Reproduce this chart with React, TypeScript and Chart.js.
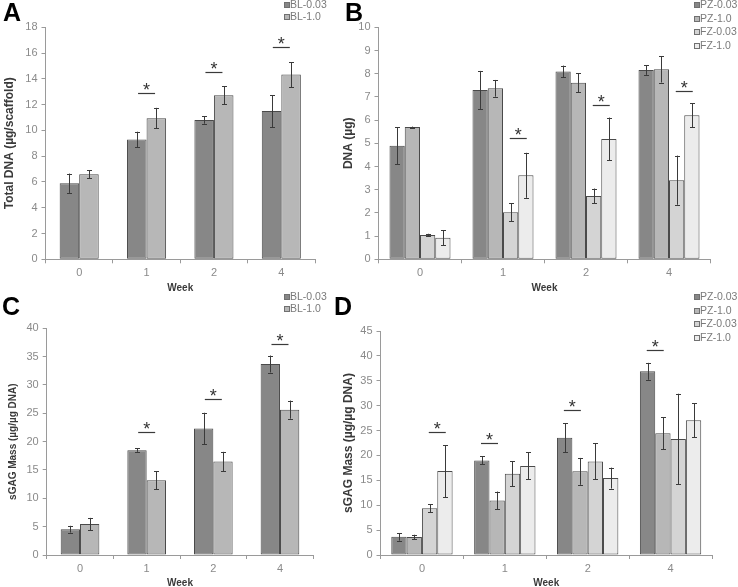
import React, { useEffect, useRef } from "react";
import { Chart, registerables } from "chart.js";
Chart.register(...registerables);

const FAMILY = 'Arial, "Liberation Sans", Helvetica, sans-serif';

const weeks = ["0", "1", "2", "4"];

// Panel A - Total DNA (µg/scaffold)
const aBL003 = [5.9, 9.3, 10.8, 11.5];
const aBL003Err = [0.75, 0.6, 0.28, 1.24];
const aBL10 = [6.6, 10.95, 12.72, 14.33];
const aBL10Err = [0.31, 0.8, 0.7, 0.97];
const aSig = [null, 12.93, 14.53, 16.45];
const aSigPair = [0, 0, 0, 0];

// Panel B - DNA (µg)
const bPZ003 = [4.89, 7.3, 8.1, 8.16];
const bPZ003Err = [0.8, 0.82, 0.25, 0.21];
const bPZ10 = [5.7, 7.37, 7.61, 8.19];
const bPZ10Err = [0.02, 0.36, 0.4, 0.57];
const bFZ003 = [1.05, 2.03, 2.73, 3.41];
const bFZ003Err = [0.05, 0.38, 0.32, 1.06];
const bFZ10 = [0.93, 3.62, 5.19, 6.21];
const bFZ10Err = [0.32, 0.97, 0.92, 0.52];
const bSig = [null, 5.22, 6.67, 7.27];
const bSigPair = [2, 2, 2, 2];

// Panel C - sGAG Mass (µg/µg DNA)
const cBL003 = [4.55, 18.5, 22.3, 33.7];
const cBL003Err = [0.6, 0.3, 2.8, 1.5];
const cBL10 = [5.45, 13.2, 16.5, 25.65];
const cBL10Err = [1.1, 1.6, 1.7, 1.6];
const cSig = [null, 21.65, 27.59, 37.18];
const cSigPair = [0, 0, 0, 0];

// Panel D - sGAG Mass (µg/µg DNA)
const dPZ003 = [3.65, 19.0, 23.55, 36.9];
const dPZ003Err = [0.77, 0.8, 2.9, 1.7];
const dPZ10 = [3.6, 10.95, 16.8, 24.45];
const dPZ10Err = [0.47, 1.8, 2.7, 3.2];
const dFZ003 = [9.38, 16.3, 18.8, 23.3];
const dFZ003Err = [0.77, 2.5, 3.6, 9.1];
const dFZ10 = [16.85, 17.9, 15.45, 27.05];
const dFZ10Err = [5.2, 2.7, 2.1, 3.4];
const dSig = [24.65, 22.57, 29.2, 41.26];
const dSigPair = [2, 0, 0, 0];

const C1 = "#878787";
const C2 = "#b7b7b7";
const C3 = "#d4d4d4";
const C4 = "#ececec";
const BORDER = "#4a4a4a";
const AXIS = "#9a9a9a";
const TICK = "#8a8a8a";

const errorBarPlugin = {
  id: "errorBars",
  afterDatasetsDraw(chart: any) {
    const { ctx } = chart;
    const yScale = chart.scales.y;
    ctx.save();
    ctx.strokeStyle = "#3a3a3a";
    ctx.lineWidth = 1;
    chart.data.datasets.forEach((ds: any, i: number) => {
      const meta = chart.getDatasetMeta(i);
      meta.data.forEach((el: any, j: number) => {
        const v = ds.data[j];
        const e = ds.errors[j];
        const x = Math.round(el.x) + 0.5;
        const yt = yScale.getPixelForValue(v + e);
        const yb = yScale.getPixelForValue(v - e);
        ctx.beginPath();
        ctx.moveTo(x, yt);
        ctx.lineTo(x, yb);
        ctx.moveTo(x - 2.5, Math.round(yt) + 0.5);
        ctx.lineTo(x + 2.5, Math.round(yt) + 0.5);
        ctx.moveTo(x - 2.5, Math.round(yb) + 0.5);
        ctx.lineTo(x + 2.5, Math.round(yb) + 0.5);
        ctx.stroke();
      });
    });
    ctx.restore();
  },
};

const sigPlugin = {
  id: "sigMarks",
  afterDatasetsDraw(chart: any, _args: any, opts: any) {
    const { ctx } = chart;
    const yScale = chart.scales.y;
    const vals = opts.values as (number | null)[];
    const pairs = opts.pairs as number[];
    ctx.save();
    ctx.strokeStyle = "#3a3a3a";
    ctx.fillStyle = "#333333";
    ctx.lineWidth = 1.2;
    ctx.font = `18px ${FAMILY}`;
    ctx.textAlign = "center";
    ctx.textBaseline = "alphabetic";
    vals.forEach((v, j) => {
      if (v === null || v === undefined) return;
      const k = pairs[j];
      const e1 = chart.getDatasetMeta(k).data[j];
      const e2 = chart.getDatasetMeta(k + 1).data[j];
      const cx = (e1.x + e2.x) / 2;
      const y = Math.round(yScale.getPixelForValue(v)) + 0.5;
      ctx.beginPath();
      ctx.moveTo(cx - 8.5, y);
      ctx.lineTo(cx + 8.5, y);
      ctx.stroke();
      ctx.fillText("*", cx, y + 2.5);
    });
    ctx.restore();
  },
};

const cornerLegendPlugin = {
  id: "cornerLegend",
  afterDraw(chart: any, _args: any, opts: any) {
    const { ctx } = chart;
    ctx.save();
    ctx.font = `10.5px ${FAMILY}`;
    ctx.textBaseline = "middle";
    ctx.textAlign = "left";
    chart.data.datasets.forEach((ds: any, i: number) => {
      const y = Math.round(opts.y + i * opts.dy);
      const x = Math.round(opts.x);
      ctx.fillStyle = ds.backgroundColor;
      ctx.fillRect(x, y - 3, 6, 6);
      ctx.strokeStyle = "#707070";
      ctx.lineWidth = 1;
      ctx.strokeRect(x + 0.5, y - 2.5, 5, 5);
      ctx.fillStyle = "#7a7a7a";
      ctx.fillText(ds.label, x + 6, y + 0.5);
    });
    ctx.restore();
  },
};

type PanelCfg = {
  left: number;
  top: number;
  w: number;
  h: number;
  plot: { l: number; t: number; r: number; b: number };
  yMax: number;
  yStep: number;
  yTitle: string;
  yTitleSize: number;
  yTitleX: number;
  xTitleY: number;
  catPct: number;
  datasets: { label: string; data: number[]; errors: number[]; color: string }[];
  sig: (number | null)[];
  sigPair: number[];
  legend: { x: number; y: number; dy: number };
};

function buildConfig(p: PanelCfg): any {
  const yWidth = p.plot.l - p.left;
  const xHeight = p.top + p.h - p.plot.b;
  const yLh = p.yTitleSize * 1.2;
  const yPadTop = p.yTitleX - p.left - yLh / 2;
  const xPadBottom = p.top + p.h - p.xTitleY - 6;
  return {
    type: "bar",
    data: {
      labels: weeks,
      datasets: p.datasets.map((d) => ({
        label: d.label,
        data: d.data,
        errors: d.errors,
        backgroundColor: d.color,
        borderColor: BORDER,
        borderWidth: 1,
        borderSkipped: false,
        barPercentage: 1,
        categoryPercentage: p.catPct,
      })),
    },
    options: {
      responsive: false,
      animation: false,
      events: [],
      layout: {
        padding: {
          left: 0,
          top: p.plot.t - p.top,
          right: p.left + p.w - p.plot.r,
          bottom: 0,
        },
      },
      plugins: {
        legend: { display: false },
        tooltip: { enabled: false },
        sigMarks: { values: p.sig, pairs: p.sigPair },
        cornerLegend: { x: p.legend.x - p.left, y: p.legend.y - p.top, dy: p.legend.dy },
      },
      scales: {
        x: {
          type: "category",
          grid: {
            display: true,
            drawOnChartArea: false,
            drawTicks: true,
            tickLength: 4,
            color: AXIS,
            offset: true,
          },
          border: { display: true, color: AXIS },
          ticks: { color: TICK, font: { size: 11, family: FAMILY }, padding: 3 },
          title: {
            display: true,
            text: "Week",
            color: "#3a3a3a",
            font: { size: 10, weight: "bold", family: FAMILY, lineHeight: 1.2 },
            padding: { top: 0, bottom: xPadBottom },
          },
          afterFit: (s: any) => {
            s.height = xHeight;
          },
        },
        y: {
          min: 0,
          max: p.yMax,
          grid: {
            display: true,
            drawOnChartArea: false,
            drawTicks: true,
            tickLength: 4,
            color: AXIS,
          },
          border: { display: true, color: AXIS },
          ticks: {
            stepSize: p.yStep,
            color: TICK,
            font: { size: 11, family: FAMILY },
            padding: 4,
          },
          title: {
            display: true,
            text: p.yTitle,
            color: "#3a3a3a",
            font: { size: p.yTitleSize, weight: "bold", family: FAMILY, lineHeight: 1.2 },
            padding: { top: yPadTop, bottom: 0 },
          },
          afterFit: (s: any) => {
            s.width = yWidth;
          },
        },
      },
    },
    plugins: [errorBarPlugin, sigPlugin, cornerLegendPlugin],
  };
}

const panels: PanelCfg[] = [
  {
    left: 0,
    top: 0,
    w: 340,
    h: 300,
    plot: { l: 45.5, t: 27.3, r: 315, b: 259.3 },
    yMax: 18,
    yStep: 2,
    yTitle: "Total DNA (µg/scaffold)",
    yTitleSize: 12,
    yTitleX: 10,
    xTitleY: 288,
    catPct: 0.58,
    datasets: [
      { label: "BL-0.03", data: aBL003, errors: aBL003Err, color: C1 },
      { label: "BL-1.0", data: aBL10, errors: aBL10Err, color: C2 },
    ],
    sig: aSig,
    sigPair: aSigPair,
    legend: { x: 284, y: 5, dy: 12 },
  },
  {
    left: 340,
    top: 0,
    w: 398,
    h: 300,
    plot: { l: 378.5, t: 27.3, r: 710.5, b: 259.3 },
    yMax: 10,
    yStep: 1,
    yTitle: "DNA (µg)",
    yTitleSize: 12,
    yTitleX: 349,
    xTitleY: 288,
    catPct: 0.735,
    datasets: [
      { label: "PZ-0.03", data: bPZ003, errors: bPZ003Err, color: C1 },
      { label: "PZ-1.0", data: bPZ10, errors: bPZ10Err, color: C2 },
      { label: "FZ-0.03", data: bFZ003, errors: bFZ003Err, color: C3 },
      { label: "FZ-1.0", data: bFZ10, errors: bFZ10Err, color: C4 },
    ],
    sig: bSig,
    sigPair: bSigPair,
    legend: { x: 694, y: 5, dy: 13.5 },
  },
  {
    left: 0,
    top: 290,
    w: 340,
    h: 300,
    plot: { l: 46.7, t: 328.3, r: 313.3, b: 555 },
    yMax: 40,
    yStep: 5,
    yTitle: "sGAG Mass (µg/µg DNA)",
    yTitleSize: 10,
    yTitleX: 13.3,
    xTitleY: 583.3,
    catPct: 0.58,
    datasets: [
      { label: "BL-0.03", data: cBL003, errors: cBL003Err, color: C1 },
      { label: "BL-1.0", data: cBL10, errors: cBL10Err, color: C2 },
    ],
    sig: cSig,
    sigPair: cSigPair,
    legend: { x: 284, y: 297.3, dy: 12 },
  },
  {
    left: 340,
    top: 290,
    w: 398,
    h: 300,
    plot: { l: 380.5, t: 331, r: 712, b: 555 },
    yMax: 45,
    yStep: 5,
    yTitle: "sGAG Mass (µg/µg DNA)",
    yTitleSize: 12,
    yTitleX: 348.3,
    xTitleY: 583.3,
    catPct: 0.74,
    datasets: [
      { label: "PZ-0.03", data: dPZ003, errors: dPZ003Err, color: C1 },
      { label: "PZ-1.0", data: dPZ10, errors: dPZ10Err, color: C2 },
      { label: "FZ-0.03", data: dFZ003, errors: dFZ003Err, color: C3 },
      { label: "FZ-1.0", data: dFZ10, errors: dFZ10Err, color: C4 },
    ],
    sig: dSig,
    sigPair: dSigPair,
    legend: { x: 694, y: 297.3, dy: 13.5 },
  },
];

function Panel({ cfg }: { cfg: PanelCfg }) {
  const ref = useRef<HTMLCanvasElement>(null);
  useEffect(() => {
    const chart = new Chart(ref.current as HTMLCanvasElement, buildConfig(cfg));
    return () => chart.destroy();
  }, [cfg]);
  return (
    <canvas
      ref={ref}
      width={cfg.w}
      height={cfg.h}
      style={{ position: "absolute", left: cfg.left, top: cfg.top, width: cfg.w, height: cfg.h }}
    />
  );
}

const letters = [
  { t: "A", x: 3, y: 0 },
  { t: "B", x: 345, y: 0 },
  { t: "C", x: 2, y: 293.5 },
  { t: "D", x: 334, y: 293.5 },
];

export default function App() {
  return (
    <div
      style={{
        position: "absolute",
        left: 0,
        top: 0,
        width: 738,
        height: 587,
        overflow: "hidden",
        background: "#ffffff",
      }}
    >
      {panels.map((p, i) => (
        <Panel key={i} cfg={p} />
      ))}
      {letters.map((l) => (
        <div
          key={l.t}
          style={{
            position: "absolute",
            left: l.x,
            top: l.y,
            fontFamily: FAMILY,
            fontWeight: "bold",
            fontSize: 25,
            lineHeight: "25px",
            color: "#000",
            zIndex: 2,
          }}
        >
          {l.t}
        </div>
      ))}
    </div>
  );
}
